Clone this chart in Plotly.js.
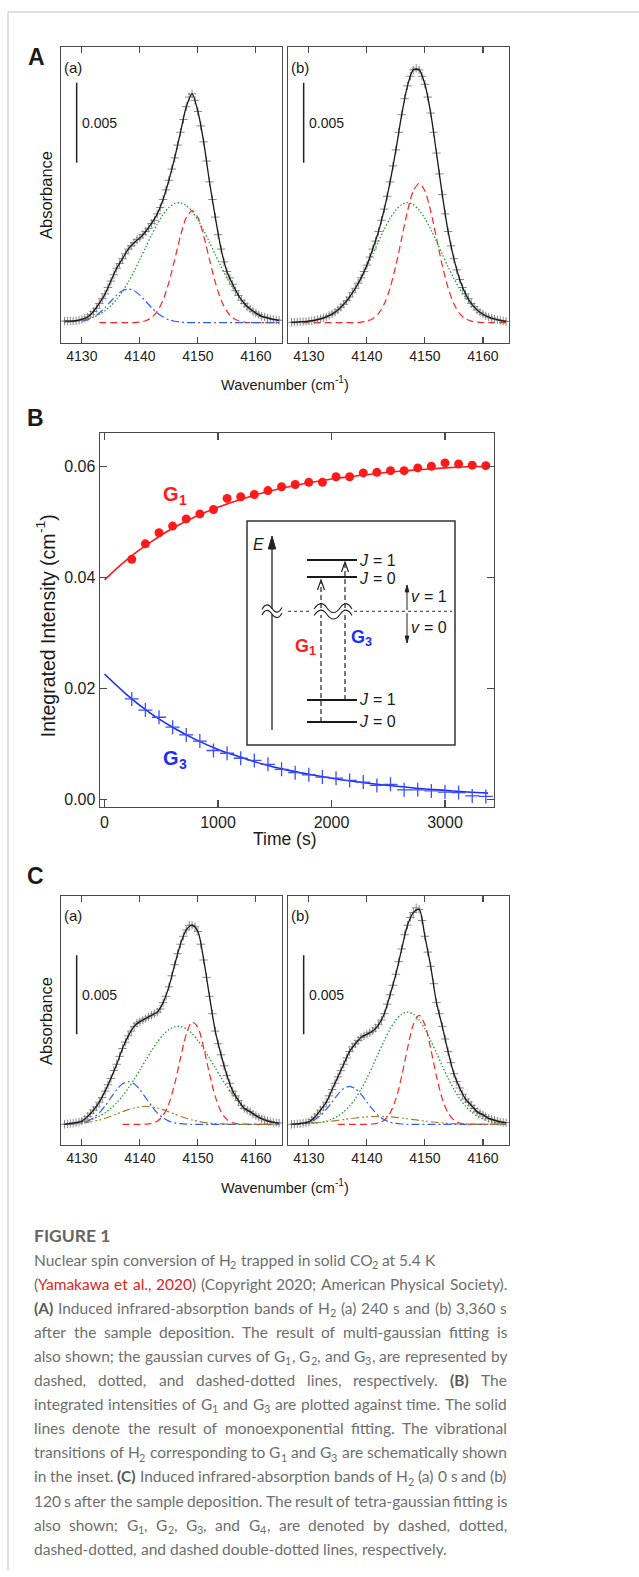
<!DOCTYPE html>
<html><head><meta charset="utf-8">
<script src="https://cdn.plot.ly/plotly-3.0.1.min.js"></script>
<style>html,body{margin:0;padding:0;background:#fff}#fig{width:639px;height:1577px}</style>
</head><body><div id="fig"></div>
<script>
// ---------- DATA ----------
const wn = [4127,4128,4129,4130,4131,4132,4133,4134,4135,4136,4137,4138,4139,4140,4141,4142,4143,4144,4145,4146,4147,4148,4149,4150,4151,4152,4153,4154,4155,4156,4157,4158,4159,4160,4161,4162,4163,4164];
const wnHalf = [4127,4127.5,4128,4128.5,4129,4129.5,4130,4130.5,4131,4131.5,4132,4132.5,4133,4133.5,4134,4134.5,4135,4135.5,4136,4136.5,4137,4137.5,4138,4138.5,4139,4139.5,4140,4140.5,4141,4141.5,4142,4142.5,4143,4143.5,4144,4144.5,4145,4145.5,4146,4146.5,4147,4147.5,4148,4148.5,4149,4149.5,4150,4150.5,4151,4151.5,4152,4152.5,4153,4153.5,4154,4154.5,4155,4155.5,4156,4156.5,4157,4157.5,4158,4158.5,4159,4159.5,4160,4160.5,4161,4161.5,4162,4162.5,4163,4163.5,4164];
const wnTicks = [4130,4140,4150,4160];

// Panel A (a): 240 s
const dataA_a = [0.0001,0.0001,0.0001,0.0001,0.00012,0.00015,0.0002,0.00027,0.00036,0.0005,
 0.0007,0.0009,0.0012,0.0015,0.0018,0.0022,0.0026,0.0030,0.0034,0.0037,
 0.0040,0.0043,0.0046,0.0048,0.0050,0.0052,0.0053,0.0055,0.0057,0.0059,
 0.0062,0.0064,0.0068,0.0072,0.0077,0.0083,0.0089,0.0096,0.0103,0.0111,
 0.0119,0.0127,0.0135,0.0141,0.0143,0.0139,0.0132,0.0123,0.0113,0.0101,
 0.0088,0.0077,0.0066,0.0055,0.0046,0.0038,0.0032,0.0028,0.0024,0.0020,
 0.0017,0.0014,0.0012,0.0010,0.00085,0.0007,0.0006,0.0005,0.0004,0.00035,
 0.0003,0.00025,0.0002,0.00018,0.00015];
const fitA_a = [0.0001,0.0001,0.00012,0.0002,0.00036,0.0007,0.0012,0.0018,0.0026,0.0034,0.0040,0.0046,0.0050,0.0053,0.0057,0.0062,0.0068,0.0077,0.0089,0.0103,0.0119,0.0135,0.0143,0.0132,0.0113,0.0088,0.0066,0.0046,0.0032,0.0024,0.0017,0.0012,0.00085,0.0006,0.0004,0.0003,0.0002,0.00015];
const g1A_a = [null,null,null,null,null,null,0,0,0,0,0,0,0,0.00004,0.00012,0.00031,0.00071,0.00142,0.00252,0.00394,0.00543,0.00657,0.0070,0.00657,0.00543,0.00394,0.00252,0.00142,0.00071,0.00031,0.00012,0.00004,0,0,0,0,0,0];
const g2A_a = [0.00003,0.00005,0.00009,0.00014,0.00022,0.00034,0.00051,0.00075,0.00106,0.00146,0.00196,0.00254,0.00322,0.00395,0.00472,0.00547,0.00617,0.00676,0.0072,0.00745,0.00749,0.00732,0.00695,0.00642,0.00576,0.00502,0.00425,0.0035,0.0028,0.00218,0.00165,0.00121,0.00087,0.0006,0.0004,0.00027,0.00017,0.0001];
const g3A_a = [null,null,null,0.00009,0.00018,0.00035,0.0006,0.00094,0.00134,0.00172,0.002,0.0021,0.002,0.00172,0.00134,0.00094,0.0006,0.00035,0.00018,0.00009,0.00004,0,0,0,0,0,0,0,0,0,0,0,0,0,0,0,0,0];

// Panel A (b): 3360 s
const dataA_b = [0.00002,0.00003,0.00004,0.00005,0.00006,0.00008,0.0001,0.00012,0.00015,0.0002,
 0.00024,0.0003,0.00036,0.00045,0.00054,0.00066,0.0008,0.00097,0.00115,0.00137,
 0.0016,0.00187,0.00215,0.00247,0.0028,0.0032,0.0036,0.0041,0.0046,0.0051,
 0.0057,0.0064,0.0071,0.0079,0.0088,0.0098,0.0108,0.0119,0.0130,0.0140,
 0.0148,0.0154,0.0158,0.0159,0.0158,0.0154,0.0149,0.0141,0.0131,0.0119,
 0.0106,0.0093,0.0080,0.0068,0.0057,0.0048,0.0040,0.0033,0.0027,0.0022,
 0.0018,0.0015,0.0012,0.0010,0.0008,0.00065,0.00053,0.00043,0.00035,0.00029,
 0.00023,0.00018,0.00014,0.00011,0.00008];
const fitA_b = [0.00002,0.00004,0.00006,0.0001,0.00015,0.00024,0.00036,0.00054,0.0008,0.00115,0.0016,0.00215,0.0028,0.0036,0.0046,0.0057,0.0071,0.0088,0.0108,0.0130,0.0148,0.0158,0.0158,0.0149,0.0131,0.0106,0.0080,0.0057,0.0040,0.0027,0.0018,0.0012,0.0008,0.00053,0.00035,0.00023,0.00014,0.00008];
const g1A_b = [0,0,0,0,0,0,0,0,0,0,0,0,0.00003,0.0001,0.00025,0.00057,0.00118,0.00217,0.00358,0.00528,0.00697,0.00823,0.0087,0.00823,0.00697,0.00528,0.00358,0.00217,0.00118,0.00057,0.00025,0.0001,0.00003,0,0,0,0,0];
const g2A_b = [0.00001,0.00003,0.00005,0.00008,0.00014,0.00023,0.00035,0.00053,0.00079,0.00113,0.00158,0.00212,0.00276,0.00349,0.00428,0.00508,0.00584,0.00652,0.00704,0.00738,0.0075,0.00738,0.00704,0.00652,0.00584,0.00508,0.00428,0.00349,0.00276,0.00212,0.00158,0.00113,0.00079,0.00053,0.00035,0.00023,0.00014,0.00008];

// Panel B: integrated intensities vs time
const tPts = [240,360,480,600,720,840,960,1080,1200,1320,1440,1560,1680,1800,1920,2040,2160,2280,2400,2520,2640,2760,2880,3000,3120,3240,3360];
const g1Pts = [0.0433,0.0461,0.0481,0.0493,0.0506,0.0515,0.0523,0.0543,0.0546,0.0550,0.0557,0.0564,0.0568,0.0572,0.0572,0.0582,0.0582,0.0589,0.0590,0.0593,0.0593,0.0598,0.0601,0.0607,0.0605,0.0603,0.0602];
const g3Pts = [0.0181,0.0161,0.0148,0.0130,0.0116,0.0105,0.0088,0.0083,0.0074,0.0070,0.0063,0.0054,0.0048,0.0044,0.0040,0.0038,0.0034,0.0031,0.0025,0.0027,0.0017,0.0017,0.0015,0.0013,0.0012,0.0006,0.0005];
const tFit = [0,200,400,600,800,1000,1200,1400,1600,1800,2000,2200,2400,2600,2800,3000,3200,3380];
const g1Fit = [0.0396,0.0433,0.0463,0.0489,0.0510,0.0527,0.0541,0.0553,0.0563,0.0571,0.0578,0.0583,0.0588,0.0592,0.0595,0.0598,0.0600,0.0601];
const g3Fit = [0.0226,0.0188,0.0156,0.0130,0.0108,0.0090,0.0076,0.0063,0.0053,0.0045,0.0038,0.0032,0.0027,0.0023,0.0019,0.0016,0.0013,0.0011];
const tTicks = [0,1000,2000,3000];
const iTicks = [0,0.02,0.04,0.06];

// Panel C (a): 0 s
const dataC_a = [0.0,0.00002,0.00005,0.00007,0.0001,0.00014,0.0002,0.00033,0.0005,0.0007,
 0.0009,0.0011,0.0014,0.0017,0.0021,0.0025,0.0029,0.0034,0.0038,0.0043,
 0.0048,0.0052,0.0056,0.0059,0.0062,0.0064,0.0065,0.0066,0.0067,0.0068,
 0.0069,0.0070,0.0071,0.0073,0.0077,0.0081,0.0087,0.0094,0.0101,0.0108,
 0.0114,0.0119,0.0123,0.0126,0.0126,0.0125,0.0122,0.0114,0.0104,0.0093,
 0.0081,0.0070,0.0059,0.0051,0.0044,0.0037,0.0031,0.0026,0.0021,0.0018,
 0.0015,0.0012,0.0010,0.0009,0.0008,0.00065,0.00055,0.00045,0.00035,0.00028,
 0.00022,0.00017,0.00012,0.0001,0.00008];
const fitC_a = [0.0,0.00005,0.0001,0.0002,0.0005,0.0009,0.0014,0.0021,0.0029,0.0038,0.0048,0.0056,0.0062,0.0065,0.0067,0.0069,0.0071,0.0077,0.0087,0.0101,0.0114,0.0123,0.0126,0.0122,0.0104,0.0081,0.0059,0.0044,0.0031,0.0021,0.0015,0.0010,0.0008,0.00055,0.00035,0.00022,0.00012,0.00008];
const g1C_a = [null,null,null,null,null,null,null,null,null,null,0,0,0,0,0.00001,0.00006,0.0002,0.00056,0.00131,0.00256,0.00419,0.0057,0.00648,0.00613,0.00484,0.00319,0.00175,0.0008,0.0003,0.0001,0.00003,0,0,0,0,0,0,0];
const g2C_a = [0.00003,0.00006,0.00009,0.00015,0.00023,0.00035,0.00051,0.00073,0.00101,0.00136,0.00178,0.00228,0.00284,0.00344,0.00406,0.00466,0.0052,0.00566,0.00599,0.00617,0.00619,0.00604,0.00574,0.0053,0.00477,0.00418,0.00356,0.00296,0.00239,0.00188,0.00144,0.00107,0.00078,0.00055,0.00038,0.00025,0.00016,0.0001];
const g3C_a = [null,0.00001,0.00004,0.00009,0.0002,0.00041,0.00072,0.00116,0.00168,0.00219,0.00256,0.0027,0.00256,0.00219,0.00168,0.00116,0.00072,0.00041,0.0002,0.00009,0.00004,0.00001,0,0,0,0,0,0,0,0,0,0,0,0,0,0,0,0];
const g4C_a = [0.00001,0.00003,0.00005,0.00008,0.00012,0.00019,0.00027,0.00038,0.00051,0.00065,0.00079,0.00093,0.00103,0.0011,0.00113,0.0011,0.00103,0.00093,0.00079,0.00065,0.00051,0.00038,0.00027,0.00019,0.00012,0.00008,0.00005,0.00003,0.00001,0,0,0,0,0,0,0,0,0];

// Panel C (b): 120 s
const dataC_b = [0.0,0.00001,0.00003,0.00005,0.00007,0.0001,0.00015,0.0003,0.00045,0.00065,
 0.0009,0.0011,0.0014,0.0018,0.0022,0.0026,0.0030,0.0034,0.0038,0.0042,
 0.0046,0.0049,0.0051,0.0053,0.0055,0.0056,0.0057,0.0058,0.0059,0.0061,
 0.0063,0.0066,0.0070,0.0076,0.0082,0.0088,0.0095,0.0103,0.0111,0.0120,
 0.0126,0.0131,0.0134,0.0137,0.0136,0.0129,0.0119,0.0109,0.0100,0.0089,
 0.0077,0.0070,0.0062,0.0054,0.0046,0.0039,0.0032,0.0027,0.0023,0.0019,
 0.0016,0.0014,0.0012,0.0010,0.0008,0.0007,0.0006,0.00048,0.00038,0.00032,
 0.00026,0.0002,0.00015,0.00012,0.0001];
const fitC_b = [0.0,0.00003,0.00007,0.00015,0.00045,0.0009,0.0014,0.0022,0.0030,0.0038,0.0046,0.0051,0.0055,0.0057,0.0059,0.0063,0.0070,0.0082,0.0095,0.0111,0.0126,0.0134,0.0136,0.0119,0.0100,0.0077,0.0062,0.0046,0.0032,0.0023,0.0016,0.0012,0.0008,0.0006,0.00038,0.00026,0.00015,0.0001];
const g1C_b = [null,null,null,null,null,null,null,null,0,0,0,0,0,0,0.00002,0.00008,0.00026,0.00071,0.00161,0.00304,0.0048,0.0063,0.0069,0.0063,0.0048,0.00304,0.00161,0.00071,0.00026,0.00008,0.00002,0,0,0,0,0,0,0];
const g2C_b = [0,0.00001,0.00002,0.00004,0.00007,0.00012,0.0002,0.00033,0.00052,0.00079,0.00115,0.00163,0.00222,0.00291,0.00369,0.00451,0.0053,0.00603,0.0066,0.00697,0.0071,0.00697,0.0066,0.00603,0.0053,0.00451,0.00369,0.00291,0.00222,0.00163,0.00115,0.00079,0.00052,0.00033,0.0002,0.00012,0.00007,0.00004];
const g3C_b = [null,0.00002,0.00006,0.00013,0.00029,0.00055,0.00094,0.00141,0.0019,0.00226,0.0024,0.00226,0.0019,0.00141,0.00094,0.00055,0.00029,0.00013,0.00006,0.00002,0,0,0,0,0,0,0,0,0,0,0,0,0,0,0,0,0,0];
const g4C_b = [0.00002,0.00003,0.00004,0.00006,0.00009,0.00012,0.00016,0.0002,0.00025,0.0003,0.00035,0.0004,0.00044,0.00047,0.00049,0.0005,0.00049,0.00047,0.00044,0.0004,0.00035,0.0003,0.00025,0.0002,0.00016,0.00012,0.00009,0.00006,0.00004,0.00003,0.00002,0.00001,0,0,0,0,0,0];

// scale bar value (absorbance)
const scaleBar = 0.005;

// ---------- HELPERS ----------
const W = 639, H = 1577;
const fx = p => p / W, fy = p => 1 - p / H;
const P = (x, y) => fx(x).toFixed(5) + ',' + fy(y).toFixed(5);
const FONT = 'Liberation Sans, Arial, Helvetica, sans-serif';
const CAPFONT = 'Lato, Open Sans, sans-serif';
const AX = '#4a4a4a';
const COL = {red:'#ff2424', green:'#1f9e2a', blue:'#2d5cff', brown:'#a47d2c', fit:'#1a1a1a', pts:'#7a7a7a'};

function specX(l, r, anchor) {
  return {domain:[fx(l), fx(r)], anchor, range:[4126.4, 4164.5], tickvals:wnTicks,
    ticks:'inside', ticklen:6, tickwidth:1.2, tickcolor:AX, showline:true, linecolor:AX, linewidth:1.4,
    mirror:'ticks', showgrid:false, zeroline:false, tickfont:{size:14, color:'#222', family:FONT}, fixedrange:true};
}
function specY(t, b, anchor, range) {
  return {domain:[fy(b), fy(t)], anchor, range, showticklabels:false, ticks:'', showline:true,
    linecolor:AX, linewidth:1.4, mirror:true, showgrid:false, zeroline:false, fixedrange:true};
}
function ln(x, y, xa, ya, color, dash, width) {
  return {type:'scatter', mode:'lines', x, y, xaxis:xa, yaxis:ya, hoverinfo:'skip', showlegend:false,
    line:{color, dash, width, shape:'spline', smoothing:0.8}};
}
function pts(x, y, xa, ya) {
  return {type:'scatter', mode:'markers', x, y, xaxis:xa, yaxis:ya, hoverinfo:'skip', showlegend:false,
    marker:{symbol:'cross-thin', size:6, color:COL.pts, line:{width:0.9, color:COL.pts}}};
}
const DASH = {g1:'7px,4px', g2:'1.5px,2px', g3:'8px,3px,2px,3px', g4:'8px,3px,2px,2px,2px,3px'};

const traces = [
  ln(wn, g1A_a, 'x', 'y', COL.red, DASH.g1, 1.2),
  ln(wn, g2A_a, 'x', 'y', COL.green, DASH.g2, 1.3),
  ln(wn, g3A_a, 'x', 'y', COL.blue, DASH.g3, 1.2),
  pts(wnHalf, dataA_a, 'x', 'y'),
  ln(wn, fitA_a, 'x', 'y', COL.fit, 'solid', 1.3),
  ln(wn, g1A_b, 'x2', 'y2', COL.red, DASH.g1, 1.2),
  ln(wn, g2A_b, 'x2', 'y2', COL.green, DASH.g2, 1.3),
  pts(wnHalf, dataA_b, 'x2', 'y2'),
  ln(wn, fitA_b, 'x2', 'y2', COL.fit, 'solid', 1.3),
  {type:'scatter', mode:'lines', x:tFit, y:g1Fit, xaxis:'x3', yaxis:'y3', hoverinfo:'skip', showlegend:false,
    line:{color:'#ff1a1a', width:1.6, shape:'spline'}},
  {type:'scatter', mode:'markers', x:tPts, y:g1Pts, xaxis:'x3', yaxis:'y3', hoverinfo:'skip', showlegend:false,
    marker:{symbol:'circle', size:9, color:'#ff1a1a'}},
  {type:'scatter', mode:'lines', x:tFit, y:g3Fit, xaxis:'x3', yaxis:'y3', hoverinfo:'skip', showlegend:false,
    line:{color:'#1a2dff', width:1.6, shape:'spline'}},
  {type:'scatter', mode:'markers', x:tPts, y:g3Pts, xaxis:'x3', yaxis:'y3', hoverinfo:'skip', showlegend:false,
    marker:{symbol:'cross-thin', size:10, color:'#3a4cff', line:{width:1.3, color:'#3a4cff'}}},
  ln(wn, g1C_a, 'x4', 'y4', COL.red, DASH.g1, 1.2),
  ln(wn, g2C_a, 'x4', 'y4', COL.green, DASH.g2, 1.3),
  ln(wn, g3C_a, 'x4', 'y4', COL.blue, DASH.g3, 1.2),
  ln(wn, g4C_a, 'x4', 'y4', COL.brown, DASH.g4, 1.2),
  pts(wnHalf, dataC_a, 'x4', 'y4'),
  ln(wn, fitC_a, 'x4', 'y4', COL.fit, 'solid', 1.3),
  ln(wn, g1C_b, 'x5', 'y5', COL.red, DASH.g1, 1.2),
  ln(wn, g2C_b, 'x5', 'y5', COL.green, DASH.g2, 1.3),
  ln(wn, g3C_b, 'x5', 'y5', COL.blue, DASH.g3, 1.2),
  ln(wn, g4C_b, 'x5', 'y5', COL.brown, DASH.g4, 1.2),
  pts(wnHalf, dataC_b, 'x5', 'y5'),
  ln(wn, fitC_b, 'x5', 'y5', COL.fit, 'solid', 1.3)
];

// ---------- SHAPES ----------
const shapes = [];
function segPx(x0, y0, x1, y1, color, width, dash) {
  shapes.push({type:'line', xref:'paper', yref:'paper', x0:fx(x0), y0:fy(y0), x1:fx(x1), y1:fy(y1),
    line:{color, width, dash:dash || 'solid'}, layer:'above'});
}
function pathPx(d, color, width, fill) {
  shapes.push({type:'path', xref:'paper', yref:'paper', path:d, line:{color, width},
    fillcolor:fill || 'rgba(0,0,0,0)', layer:'above'});
}
segPx(8, 12, 639, 12, '#d4d4d4', 1.5);
segPx(8, 12, 8, 1570, '#d4d4d4', 1.5);

[['x','y',0.010],['x2','y2',0.010],['x4','y4',0.0057],['x5','y5',0.0057]].forEach(([xa, ya, y0]) => {
  shapes.push({type:'line', xref:xa, yref:ya, x0:4129.1, x1:4129.1, y0:y0, y1:y0 + scaleBar,
    line:{color:'#222', width:1.5}});
});

// inset schematic
shapes.push({type:'rect', xref:'paper', yref:'paper', x0:fx(247), x1:fx(455), y0:fy(745), y1:fy(521),
  line:{color:'#333', width:1.5}, fillcolor:'#ffffff', layer:'above'});
segPx(272, 730, 272, 546, '#222', 1.3);
pathPx('M' + P(268.3, 549) + ' L' + P(272, 536) + ' L' + P(275.7, 549) + ' Z', '#222', 1, '#222');
shapes.push({type:'rect', xref:'paper', yref:'paper', x0:fx(266), x1:fx(278), y0:fy(614), y1:fy(609),
  line:{width:0}, fillcolor:'#ffffff', layer:'above'});
[608.5, 614].forEach(y => {
  pathPx('M' + P(262, y + 1) + ' C' + P(265, y - 5) + ' ' + P(268.5, y - 5) + ' ' + P(272, y) +
    ' C' + P(275.5, y + 5) + ' ' + P(279, y + 5) + ' ' + P(282, y - 1), '#222', 1.1);
});
segPx(288, 611.3, 312, 611.3, '#333', 1, 'dot');
segPx(354, 611.3, 452, 611.3, '#333', 1, 'dot');
[560, 577, 700, 722].forEach(y => segPx(307, y, 357, y, '#1a1a1a', 2));
segPx(321, 722, 321, 615, '#222', 1.2, '5px,3px');
segPx(321, 608, 321, 582, '#222', 1.2, '5px,3px');
pathPx('M' + P(317.5, 590) + ' L' + P(321, 580) + ' L' + P(324.5, 590), '#222', 1.2);
segPx(345, 700, 345, 615, '#222', 1.2, '5px,3px');
segPx(345, 608, 345, 564, '#222', 1.2, '5px,3px');
pathPx('M' + P(341.5, 572) + ' L' + P(345, 562) + ' L' + P(348.5, 572), '#222', 1.2);
[608, 614.5].forEach(y => {
  pathPx('M' + P(314, y + 1) + ' C' + P(319, y - 6) + ' ' + P(323, y - 6) + ' ' + P(327, y) +
    ' C' + P(331, y + 6) + ' ' + P(336, y + 6) + ' ' + P(340, y) +
    ' C' + P(344, y - 6) + ' ' + P(348, y - 6) + ' ' + P(352, y + 1), '#222', 1.1);
});
segPx(407, 610, 407, 590, '#222', 1);
pathPx('M' + P(405.2, 592) + ' L' + P(407, 585) + ' L' + P(408.8, 592) + ' Z', '#222', 1, '#222');
segPx(407, 613, 407, 637, '#222', 1);
pathPx('M' + P(405.2, 636) + ' L' + P(407, 643) + ' L' + P(408.8, 636) + ' Z', '#222', 1, '#222');

// ---------- TEXT (plain runs, each with its own font size) ----------
const annotations = [];
const cv = document.createElement('canvas').getContext('2d');
function measure(t, f) {
  cv.font = (f.style || 'normal') + ' ' + (f.weight || 'normal') + ' ' + f.size + 'px ' + f.family;
  return cv.measureText(t).width;
}
function addText(t, xpx, ypx, f, o) {
  o = o || {};
  annotations.push({text:t, xref:'paper', yref:'paper', x:fx(xpx), y:fy(ypx),
    xanchor:o.xa || 'left', yanchor:o.ya || 'middle', showarrow:false, borderpad:0, borderwidth:0,
    textangle:o.angle || 0,
    font:{family:f.family, size:f.size, color:f.color, weight:f.weight || 'normal', style:f.style || 'normal'}});
}
function pieceFont(p, base) {
  return {family:base.family, size:(p.sub || p.sup) ? +(base.size * 0.7).toFixed(2) : base.size,
    color:p.color || base.color, weight:p.weight || base.weight || 'normal', style:p.style || base.style || 'normal'};
}
function pieceDy(p, base) { return p.sub ? base.size * 0.3 : (p.sup ? -base.size * 0.38 : 0); }
function runs(pieces, x, y, base, align) {
  const items = pieces.map(p => {
    const f = pieceFont(p, base);
    const lead = (measure(' ', f) + (p.pad || 0)) * (p.t.match(/^ */)[0].length);
    const tt = p.t.trim();
    const trail = measure(' ', f) * (p.t.match(/ *$/)[0].length);
    return {tt, f, lead, trail, w:measure(tt, f), dy:pieceDy(p, base)};
  });
  const total = items.reduce((s, it) => s + it.lead + it.w + it.trail, 0);
  let cx = align === 'center' ? x - total / 2 : x;
  items.forEach(it => { cx += it.lead; addText(it.tt, cx, y + it.dy, it.f); cx += it.w + it.trail; });
}
function runsV(pieces, x, y, base) {
  const items = pieces.map(p => { const f = pieceFont(p, base); return {tt:p.t, f, w:measure(p.t, f), dy:pieceDy(p, base)}; });
  const total = items.reduce((s, it) => s + it.w, 0);
  let cy = y + total / 2;
  items.forEach(it => { addText(it.tt, x + it.dy, cy, it.f, {xa:'center', ya:'bottom', angle:-90}); cy -= it.w; });
}
function paraLine(segs, x, y, base, right, justify) {
  const words = [[]];
  segs.forEach(s => {
    s.t.split(/( +)/).forEach(part => {
      if (part === '') return;
      if (/^ +$/.test(part)) { if (words[words.length - 1].length) words.push([]); return; }
      words[words.length - 1].push(Object.assign({}, s, {t:part}));
    });
  });
  const ws = words.filter(w => w.length).map(w => w.map(p => {
    const f = pieceFont(p, base); return {tt:p.t, f, w:measure(p.t, f), dy:pieceDy(p, base)};
  }));
  const sumW = ws.reduce((s, w) => s + w.reduce((a, p) => a + p.w, 0), 0);
  let gap = measure(' ', base);
  if (justify && ws.length > 1) gap = Math.max(3, (right - x - sumW) / (ws.length - 1));
  let cx = x;
  ws.forEach(w => { w.forEach(p => { addText(p.tt, cx, y + p.dy, p.f); cx += p.w; }); cx += gap; });
}

const AF = {family:FONT, size:14, color:'#1a1a1a'};
const f = (o) => Object.assign({}, AF, o);
addText('A', 36, 57, f({size:23, weight:'bold'}), {xa:'center'});
addText('B', 35, 418, f({size:23, weight:'bold'}), {xa:'center'});
addText('C', 35, 876, f({size:23, weight:'bold'}), {xa:'center'});
[[64, 67, '(a)'], [291, 67, '(b)'], [64, 915, '(a)'], [291, 915, '(b)']].forEach(([x, y, t]) => addText(t, x, y, f({size:15})));
[[82, 123], [309, 123], [82, 995], [309, 995]].forEach(([x, y]) => addText('0.005', x, y, f({size:14})));
runs([{t:'Wavenumber (cm'}, {t:'-1', sup:true}, {t:')'}], 285, 385, f({size:14.5}), 'center');
runs([{t:'Wavenumber (cm'}, {t:'-1', sup:true}, {t:')'}], 285, 1188, f({size:14.5}), 'center');
runsV([{t:'Absorbance'}], 46, 195, f({size:16.5}));
runsV([{t:'Absorbance'}], 46, 1021, f({size:16.5}));
runsV([{t:'Integrated Intensity (cm'}, {t:'-1', sup:true}, {t:')'}], 48, 626, f({size:19.5}));
runs([{t:'Time (s)'}], 285, 839, f({size:17.5}), 'center');
runs([{t:'G'}, {t:'1', sub:true}], 163, 494, f({size:20, weight:'bold', color:'#ff1a1a'}), 'left');
runs([{t:'G'}, {t:'3', sub:true}], 163, 758, f({size:20, weight:'bold', color:'#1a2dff'}), 'left');
addText('E', 258, 544, f({size:16, style:'italic'}), {xa:'center'});
[[560, '1'], [578, '0'], [700, '1'], [722, '0']].forEach(([y, n]) =>
  runs([{t:'J', style:'italic'}, {t:' = ' + n, pad:1.5}], 359, y, f({size:16}), 'left'));
runs([{t:'v', style:'italic'}, {t:' = 1', pad:1}], 411, 597, f({size:16}), 'left');
runs([{t:'v', style:'italic'}, {t:' = 0', pad:1}], 411, 627, f({size:16}), 'left');
runs([{t:'G'}, {t:'1', sub:true}], 295, 646, f({size:18, weight:'bold', color:'#ff1a1a'}), 'left');
runs([{t:'G'}, {t:'3', sub:true}], 351, 637, f({size:18, weight:'bold', color:'#1a2dff'}), 'left');

// caption
const CB = {family:CAPFONT, size:15.5, color:'#6e6e6e'};
const s = t => ({t});
const sub = t => ({t, sub:true});
const bo = t => ({t, weight:'bold', color:'#5a5a5a'});
const rd = t => ({t, color:'#e2231a'});
const captionLines = [
  [[s('Nuclear spin conversion of H'), sub('2'), s(' trapped in solid CO'), sub('2'), s(' at 5.4 K')], false],
  [[s('('), rd('Yamakawa et al., 2020'), s(') (Copyright 2020; American Physical Society).')], true],
  [[bo('(A)'), s(' Induced infrared-absorption bands of H'), sub('2'), s(' (a) 240 s and (b) 3,360 s')], true],
  [[s('after the sample deposition. The result of multi-gaussian fitting is')], true],
  [[s('also shown; the gaussian curves of G'), sub('1'), s(', G'), sub('2'), s(', and G'), sub('3'), s(', are represented by')], true],
  [[s('dashed, dotted, and dashed-dotted lines, respectively. '), bo('(B)'), s(' The')], true],
  [[s('integrated intensities of G'), sub('1'), s(' and G'), sub('3'), s(' are plotted against time. The solid')], true],
  [[s('lines denote the result of monoexponential fitting. The vibrational')], true],
  [[s('transitions of H'), sub('2'), s(' corresponding to G'), sub('1'), s(' and G'), sub('3'), s(' are schematically shown')], true],
  [[s('in the inset. '), bo('(C)'), s(' Induced infrared-absorption bands of H'), sub('2'), s(' (a) 0 s and (b)')], true],
  [[s('120 s after the sample deposition. The result of tetra-gaussian fitting is')], true],
  [[s('also shown; G'), sub('1'), s(', G'), sub('2'), s(', G'), sub('3'), s(', and G'), sub('4'), s(', are denoted by dashed, dotted,')], true],
  [[s('dashed-dotted, and dashed double-dotted lines, respectively.')], false]
];
addText('FIGURE 1', 34, 1235, {family:CAPFONT, size:17.5, color:'#666666', weight:'bold'});
captionLines.forEach(([segs, just], i) => paraLine(segs, 34, 1260 + i * 24.05, CB, 507, just));

// ---------- LAYOUT ----------
const layout = {
  width:W, height:H, margin:{l:0, r:0, t:0, b:0}, paper_bgcolor:'#ffffff', plot_bgcolor:'rgba(0,0,0,0)',
  showlegend:false, font:{family:FONT, color:'#222'},
  xaxis: specX(61, 282, 'y'),
  yaxis: specY(47, 343, 'x', [-0.00127, 0.01723]),
  xaxis2: specX(288, 509, 'y2'),
  yaxis2: specY(47, 343, 'x2', [-0.00127, 0.01723]),
  xaxis3: {domain:[fx(100), fx(494)], anchor:'y3', range:[-40, 3432], tickvals:tTicks,
    ticks:'inside', ticklen:7, tickwidth:1.3, tickcolor:AX, showline:true, linecolor:AX, linewidth:1.4,
    mirror:'ticks', showgrid:false, zeroline:false, tickfont:{size:16, color:'#222'}, fixedrange:true},
  yaxis3: {domain:[fy(807), fy(433)], anchor:'x3', range:[-0.0014, 0.0661], tickvals:iTicks, tickformat:'.2f',
    ticks:'inside', ticklen:7, tickwidth:1.3, tickcolor:AX, showline:true, linecolor:AX, linewidth:1.4,
    mirror:'ticks', showgrid:false, zeroline:false, tickfont:{size:16, color:'#222'}, fixedrange:true},
  xaxis4: specX(61, 282, 'y4'),
  yaxis4: specY(896, 1145, 'x4', [-0.00131, 0.01445]),
  xaxis5: specX(288, 509, 'y5'),
  yaxis5: specY(896, 1145, 'x5', [-0.00131, 0.01445]),
  shapes, annotations
};
Plotly.newPlot('fig', traces, layout, {staticPlot:true, displayModeBar:false});
</script>
</body></html>
